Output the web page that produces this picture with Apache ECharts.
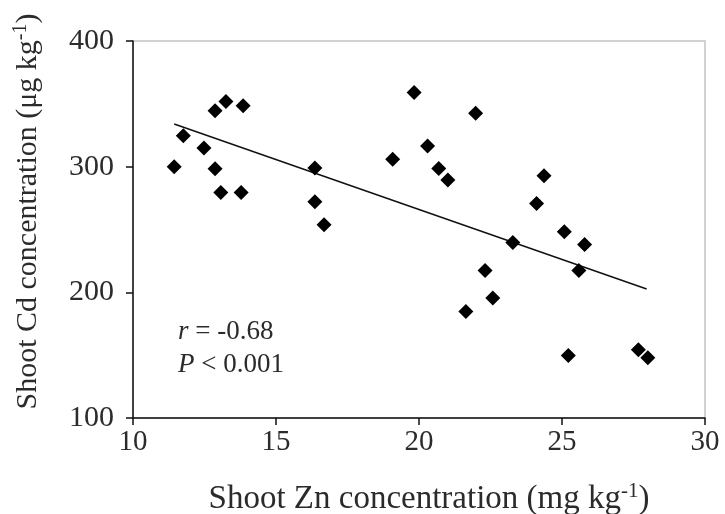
<!DOCTYPE html>
<html>
<head>
<meta charset="utf-8">
<script src="https://cdn.jsdelivr.net/npm/echarts@6/dist/echarts.min.js"></script>
<style>
  html, body { margin: 0; padding: 0; background: #fff; }
  #chart { width: 725px; height: 514px; }
</style>
</head>
<body>
<div id="chart"></div>
<script>
// shoot Zn (mg/kg) vs shoot Cd (ug/kg)
const zn = [11.44, 11.76, 12.48, 12.87, 13.25, 13.85, 12.87, 13.07, 13.78, 16.36,
  16.36, 16.68, 19.08, 19.83, 21.98, 20.30, 20.69, 21.01, 24.37, 24.11,
  25.08, 25.79, 23.28, 25.59, 22.31, 22.58, 21.64, 25.22, 27.67, 28.0];
const cd = [300, 324.6, 314.8, 344.5, 351.9, 348.4, 298.3, 279.5, 279.5, 298.9,
  272.1, 253.8, 306, 359, 342.6, 316.4, 298.6, 289.3, 292.8, 270.7,
  248.2, 238.1, 239.7, 217.4, 217.4, 195.5, 184.8, 149.8, 154.3, 148];
const fitX = [11.44, 27.96];
const fitY = [333.9, 202.6];
const xTicks = [10, 15, 20, 25, 30];
const yTicks = [100, 200, 300, 400];

const font = "'Liberation Serif', 'DejaVu Serif', serif";
const txt = "#2b2b2b";
const chart = echarts.init(document.getElementById("chart"));

chart.setOption({
  animation: false,
  grid: {
    left: 133,
    right: 20,
    top: 41,
    bottom: 96,
    outerBoundsMode: "none",
    show: true,
    borderColor: "#c4c4c4",
    borderWidth: 1.5,
  },
  xAxis: {
    type: "value",
    min: xTicks[0],
    max: xTicks[xTicks.length - 1],
    interval: 5,
    name: "{a|Shoot Zn concentration (mg kg}{s|-1}{a|)}",
    nameLocation: "middle",
    nameGap: 63,
    nameTextStyle: {
      padding: [0, 0, 0, 20],
      rich: {
        a: { fontFamily: font, fontSize: 33, color: txt },
        s: { fontFamily: font, fontSize: 21, color: txt, verticalAlign: "bottom", padding: [0, 0, 16, 0] },
      },
    },
    axisLine: { lineStyle: { color: "#111", width: 1.5 } },
    axisTick: { show: true, length: 7, lineStyle: { color: "#111", width: 1.5 } },
    axisLabel: { fontFamily: font, fontSize: 29, color: txt, margin: 10 },
    splitLine: { show: false },
  },
  yAxis: {
    type: "value",
    min: yTicks[0],
    max: yTicks[yTicks.length - 1],
    interval: 100,
    name: "{a|Shoot Cd concentration (μg kg}{s|-1}{a|)}",
    nameLocation: "middle",
    nameGap: 88,
    nameRotate: 90,
    nameTextStyle: {
      padding: [0, 0, 0, 36],
      rich: {
        a: { fontFamily: font, fontSize: 30, color: txt },
        s: { fontFamily: font, fontSize: 20, color: txt, verticalAlign: "bottom", padding: [0, 0, 14, 0] },
      },
    },
    axisLine: { show: true, lineStyle: { color: "#111", width: 1.5 } },
    axisTick: { show: true, length: 7, lineStyle: { color: "#111", width: 1.5 } },
    axisLabel: { fontFamily: font, fontSize: 30, color: txt, margin: 19 },
    splitLine: { show: false },
  },
  graphic: [
    {
      type: "text",
      left: 178,
      top: 315,
      style: {
        text: "{i|r} = -0.68\n{i|P} < 0.001",
        font: "27px " + font,
        fill: txt,
        lineHeight: 33,
        rich: {
          i: { fontFamily: font, fontSize: 27, fontStyle: "italic", fill: txt },
        },
      },
    },
  ],
  series: [
    {
      type: "line",
      data: fitX.map((x, i) => [x, fitY[i]]),
      symbol: "none",
      lineStyle: { color: "#111", width: 1.5 },
      z: 2,
    },
    {
      type: "scatter",
      data: zn.map((x, i) => [x, cd[i]]),
      symbol: "diamond",
      symbolSize: 15,
      itemStyle: { color: "#000", opacity: 1 },
      z: 3,
    },
  ],
});
</script>
</body>
</html>
